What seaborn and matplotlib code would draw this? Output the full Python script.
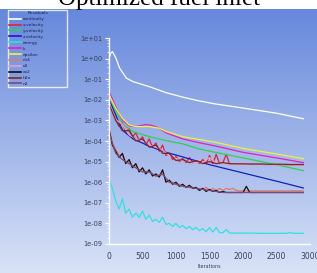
import numpy as np
import pandas as pd
import matplotlib
matplotlib.use("Agg")
import matplotlib.pyplot as plt
import seaborn as sns
from matplotlib.ticker import FuncFormatter, LogLocator

# residual histories as log10 values
# smooth curves: own iteration points
cont_it = [0, 25, 50, 100, 160, 260, 360, 600, 850, 1100, 1340, 1585, 2000, 2500, 2900]
cont_lg = [0.0, 0.25, 0.34, 0.05, -0.47, -0.95, -1.12, -1.36, -1.65, -1.87, -2.05, -2.2, -2.4, -2.65, -2.92]

yvel_it = [0, 110, 210, 360, 600, 850, 1100, 1340, 1585, 2000, 2500, 2900]
yvel_lg = [-2.0, -2.57, -3.22, -3.54, -3.79, -3.98, -4.14, -4.38, -4.55, -4.82, -5.15, -5.44]

zvel_it = [0, 110, 160, 210, 360, 500, 600, 850, 1000, 1340, 1500, 2000, 2500, 2900]
zvel_lg = [-2.0, -2.8, -3.2, -3.5, -3.9, -4.1, -4.25, -4.55, -4.68, -5.0, -5.15, -5.55, -5.95, -6.28]

k_it = [0, 100, 200, 300, 400, 550, 650, 750, 850, 1100, 1340, 1585, 2000, 2500, 2900]
k_lg = [-1.6, -2.33, -2.98, -3.27, -3.3, -3.2, -3.25, -3.38, -3.6, -3.9, -4.08, -4.24, -4.55, -4.82, -5.05]

eps_it = [0, 100, 200, 300, 400, 600, 750, 850, 1100, 1340, 1585, 2000, 2500, 2900]
eps_lg = [-1.76, -2.4, -2.9, -3.22, -3.3, -3.3, -3.38, -3.53, -3.79, -3.92, -4.06, -4.36, -4.63, -4.86]

# noisy curves: every 50 iterations (0..2900)
it50 = list(range(0, 2901, 50))
xvel_lg = [-2.0, -2.5, -2.9, -3.3, -3.1, -3.6, -3.4, -3.8, -3.6, -4.0,
           -3.8, -4.2, -3.9, -4.3, -4.1, -4.5, -4.2, -4.7, -4.6, -4.9,
           -4.75, -5.0, -4.85, -5.05, -4.8, -5.05, -4.95, -5.1, -4.9, -5.1,
           -4.7, -5.1, -4.65, -5.1, -5.05, -4.65, -5.12, -5.12, -5.12, -5.12,
           -5.12, -5.13, -5.13, -5.13, -5.13, -5.13, -5.14, -5.14, -5.14, -5.14,
           -5.14, -5.14, -5.15, -5.15, -5.15, -5.15, -5.15, -5.15, -5.15]
energy_lg = [-5.9, -6.3, -6.9, -7.3, -6.8, -7.5, -7.3, -7.7, -7.5, -7.7,
             -7.4, -7.8, -7.6, -7.9, -7.8, -7.95, -7.7, -8.05, -8.0, -8.15,
             -8.0, -8.2, -8.1, -8.25, -8.15, -8.3, -8.2, -8.35, -8.25, -8.4,
             -8.2, -8.42, -8.2, -8.45, -8.45, -8.3, -8.47, -8.47, -8.47, -8.47,
             -8.47, -8.47, -8.47, -8.47, -8.48, -8.48, -8.48, -8.48, -8.48, -8.48,
             -8.48, -8.48, -8.48, -8.48, -8.45, -8.48, -8.48, -8.48, -8.48]
sp1_lg = [-3.3, -4.1, -4.4, -4.7, -4.7, -5.0, -5.0, -5.2, -5.2, -5.4,
          -5.4, -5.5, -5.5, -5.6, -5.7, -5.7, -5.6, -5.9, -6.0, -6.0,
          -6.1, -6.1, -6.2, -6.2, -6.25, -6.25, -6.3, -6.35, -6.35, -6.25,
          -6.4, -6.3, -6.4, -6.3, -6.4, -6.3, -6.35, -6.3, -6.4, -6.42,
          -6.42, -6.42, -6.42, -6.42, -6.42, -6.42, -6.42, -6.42, -6.42, -6.42,
          -6.42, -6.42, -6.42, -6.42, -6.42, -6.42, -6.42, -6.42, -6.42]
sp3_lg = [-3.4, -4.2, -4.5, -4.8, -4.6, -5.1, -4.9, -5.3, -5.1, -5.5,
          -5.3, -5.6, -5.4, -5.7, -5.6, -5.75, -5.4, -6.0, -5.9, -6.1,
          -6.0, -6.2, -6.1, -6.25, -6.15, -6.3, -6.25, -6.4, -6.3, -6.45,
          -6.35, -6.45, -6.4, -6.5, -6.45, -6.5, -6.5, -6.5, -6.5, -6.5,
          -6.5, -6.2, -6.5, -6.5, -6.5, -6.5, -6.5, -6.5, -6.5, -6.5,
          -6.5, -6.5, -6.5, -6.5, -6.5, -6.5, -6.5, -6.5, -6.5]

# the rest every 100 iterations (0..2900)
it100 = list(range(0, 2901, 100))
sp2_lg = [-2.1, -2.95, -3.2, -3.7, -3.9, -4.0, -4.2, -4.3, -4.45, -4.7,
          -4.85, -4.95, -5.0, -5.05, -5.05, -4.8, -5.1, -5.1, -5.13, -5.13,
          -5.13, -5.14, -5.14, -5.14, -5.15, -5.15, -5.15, -5.15, -5.16, -5.16]
sp4_lg = [-2.2, -3.0, -3.5, -3.5, -4.0, -3.9, -4.3, -4.2, -4.6, -4.6,
          -4.95, -4.9, -5.05, -4.95, -5.1, -5.0, -5.1, -5.05, -5.1, -5.11,
          -5.11, -5.12, -5.12, -5.12, -5.13, -5.13, -5.13, -5.14, -5.14, -5.14]
sp5_lg = [-3.6, -4.6, -4.9, -5.1, -5.3, -5.5, -5.5, -5.7, -5.6, -6.0,
          -6.1, -6.2, -6.25, -6.3, -6.35, -6.4, -6.45, -6.5, -6.5, -6.5,
          -6.5, -6.5, -6.5, -6.5, -6.5, -6.5, -6.5, -6.5, -6.5, -6.5]

names = ["continuity", "x-velocity", "y-velocity", "z-velocity", "energy",
         "k", "epsilon", "ch4", "o2", "co2", "h2o", "n2"]
colores = ["#ffffff", "#e0203a", "#30d050", "#1020c0", "#30e0e0", "#e020c0",
           "#f0f040", "#e07a6a", "#e8a0c0", "#101010", "#7a2a2a", "#7a4a80"]

series = [
    (cont_it, cont_lg), (it50, xvel_lg), (yvel_it, yvel_lg), (zvel_it, zvel_lg),
    (it50, energy_lg), (k_it, k_lg), (eps_it, eps_lg), (it50, sp1_lg),
    (it100, sp2_lg), (it50, sp3_lg), (it100, sp4_lg), (it100, sp5_lg),
]

filas = []
for nombre, (its, lg) in zip(names, series):
    for i, v in zip(its, lg):
        filas.append({"Iterations": i, "res": 10 ** v, "name": nombre})
df = pd.DataFrame(filas)

fig = plt.figure(figsize=(3.17, 2.73), dpi=100)
fig.patch.set_facecolor("white")

# gradient background (below the white strip on top)
bg = fig.add_axes([0, 0, 1, 1 - 9 / 273], zorder=-5)
top = np.array([0.40, 0.53, 0.86])
bot = np.array([0.85, 0.89, 0.97])
t = np.linspace(0, 1, 256)[:, None]
grad = (top * (1 - t) + bot * t)[:, None, :]
bg.imshow(grad, aspect="auto", extent=[0, 1, 0, 1])
bg.axis("off")

ax = fig.add_axes([109 / 317, 1 - 244 / 273, (310 - 109) / 317, (244 - 38) / 273])
ax.set_facecolor("none")

sns.lineplot(data=df, x="Iterations", y="res", hue="name", hue_order=names,
             palette=dict(zip(names, colores)), estimator=None, sort=True,
             linewidth=0.9, ax=ax)

ax.set_yscale("log")
ax.set_ylim(1e-9, 1e1)
ax.set_xlim(0, 2950)
ax.set_xticks([0, 500, 1000, 1500, 2000, 2500, 3000])
ax.yaxis.set_major_locator(LogLocator(base=10, numticks=12))
ax.yaxis.set_major_formatter(FuncFormatter(lambda v, p: f"{v:.0e}"))
ax.yaxis.set_minor_locator(LogLocator(base=10, subs=[2, 4, 6, 8], numticks=12))
ax.yaxis.set_minor_formatter(FuncFormatter(lambda v, p: ""))

for s in ["top", "right"]:
    ax.spines[s].set_visible(False)
for s in ["left", "bottom"]:
    ax.spines[s].set_color("white")
    ax.spines[s].set_linewidth(1.0)

fuente = ["Liberation Sans Narrow", "DejaVu Sans"]
ax.tick_params(axis="y", which="major", colors="white", length=3, width=0.8,
               labelcolor="#3a3f5a", labelsize=4.8, pad=2)
ax.tick_params(axis="y", which="minor", colors="white", length=1.5, width=0.5)
ax.tick_params(axis="x", length=0, labelcolor="#3a3f5a", labelsize=5.5, pad=6)
for lab in ax.get_xticklabels() + ax.get_yticklabels():
    lab.set_family(fuente)
ax.set_xlabel("Iterations", fontsize=3.5, color="#3a3f5a", labelpad=2, family=fuente)
ax.set_ylabel("")

sns.move_legend(ax, loc="upper left",
                bbox_to_anchor=(8 / 317, 1 - 89 / 273, 59 / 317, 79 / 273),
                bbox_transform=fig.transFigure, mode="expand", title="Residuals",
                fontsize=3.2, title_fontsize=3.2, frameon=True, fancybox=False,
                handlelength=2.6, handletextpad=0.4, labelspacing=0.4,
                borderpad=0.3, borderaxespad=0)
leg = ax.get_legend()
leg.get_frame().set_facecolor("none")
leg.get_frame().set_edgecolor("white")
leg.get_frame().set_linewidth(1.0)
for txt in leg.get_texts():
    txt.set_color("#1a1f4a")
leg.get_title().set_color("#1a1f4a")
for h in leg.legend_handles:
    h.set_linewidth(1.2)

# title, cut off by the top of the image as in the screenshot
fig.text(0.5, 1 - 5.5 / 273, "Optimized fuel inlet", ha="center", va="baseline",
         fontsize=18, family=["Liberation Serif", "DejaVu Serif"], color="black")

fig.savefig("out.png", dpi=100)
